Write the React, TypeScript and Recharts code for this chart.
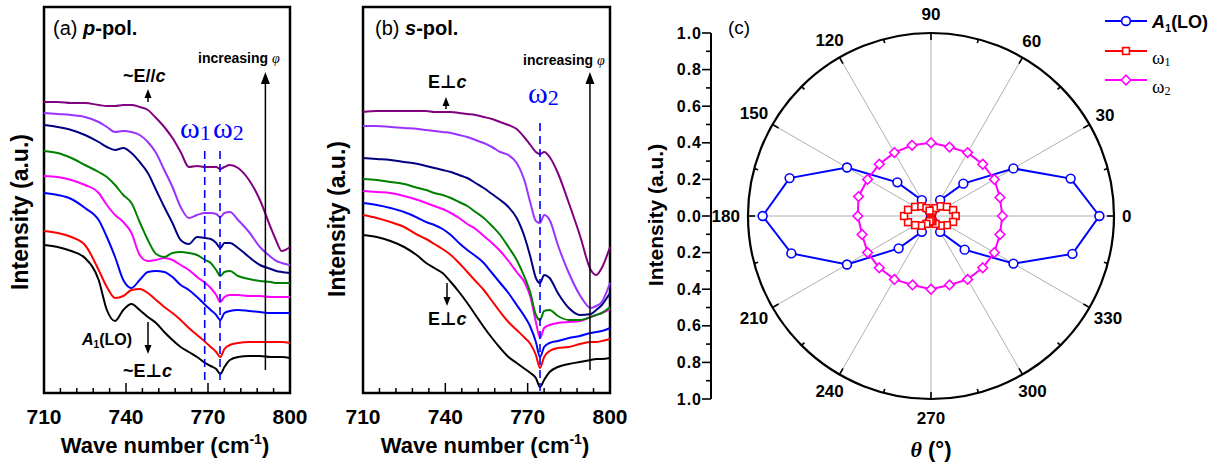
import React from "react";
import {
  LineChart,
  Line,
  XAxis,
  YAxis,
  ReferenceArea,
  ReferenceLine,
  ReferenceDot,
  RadarChart,
  Radar,
  PolarGrid,
  PolarAngleAxis,
  PolarRadiusAxis,
} from "recharts";

const FONT = "'Liberation Sans', Arial, 'DejaVu Sans', sans-serif";
const SERIF = "'Liberation Serif', 'DejaVu Serif', serif";

// wave numbers (cm-1) shared by both spectra panels
const WAVE = [
  710, 715, 720, 725, 730, 733, 736, 739, 742, 745, 748, 751, 754, 757, 760,
  763, 766, 769, 771, 773, 774.5, 776, 778, 781, 785, 789, 793, 795, 797, 800,
];
const WAVE_TICKS = [710, 716, 722, 728, 734, 740, 746, 752, 758, 764, 770, 776, 782, 788, 794, 800];
const WAVE_LABELS = [710, 740, 770, 800];

// (a) p-pol. spectra, bottom (black) to top (purple), intensity in a.u.
const P_BLACK = [148, 146, 142, 135, 113, 83, 72, 83, 89, 83, 76, 70, 61, 53, 46, 41, 36, 30, 27, 24, 19, 26, 33, 36, 37, 37, 36, 36, 36, 35];
const P_RED = [162, 160, 156, 148, 123, 106, 95, 97, 103, 104, 100, 93, 86, 80, 73, 65, 58, 51, 46, 41, 36, 44, 48, 50, 51, 51, 51, 51, 51, 50];
const P_BLUE = [200, 198, 194, 185, 173, 156, 136, 113, 105, 113, 121, 122, 121, 116, 108, 103, 96, 88, 83, 78, 73, 80, 82, 83, 82, 81, 80, 80, 80, 80];
const P_MAGENTA = [217, 216, 213, 208, 200, 188, 178, 171, 160, 138, 132, 133, 135, 133, 128, 123, 116, 110, 105, 98, 91, 96, 98, 98, 97, 97, 96, 96, 96, 96];
const P_GREEN = [242, 240, 235, 228, 221, 216, 208, 198, 190, 171, 153, 139, 136, 140, 141, 140, 138, 133, 130, 123, 117, 121, 122, 117, 114, 112, 111, 110, 110, 110];
const P_NAVY = [268, 266, 263, 258, 251, 246, 243, 245, 240, 231, 220, 203, 186, 170, 153, 149, 156, 155, 154, 150, 145, 150, 150, 145, 136, 128, 124, 122, 121, 120];
const P_VIOLET = [280, 279, 278, 276, 271, 266, 261, 262, 261, 258, 251, 240, 223, 206, 186, 175, 178, 180, 180, 179, 176, 180, 181, 173, 161, 146, 136, 132, 130, 128];
const P_PURPLE = [291, 291, 290, 290, 288, 287, 287, 288, 288, 286, 283, 275, 266, 255, 241, 226, 227, 226, 226, 226, 224, 226, 228, 225, 213, 193, 165, 152, 142, 146];

// (b) s-pol. spectra
const S_BLACK = [158, 156, 152, 146, 137, 130, 125, 120, 111, 101, 90, 78, 66, 55, 45, 36, 30, 24, 20, 15, 6, 13, 21, 26, 29, 31, 33, 34, 34, 35];
const S_RED = [178, 175, 171, 166, 158, 154, 149, 144, 138, 130, 121, 112, 103, 92, 81, 71, 63, 55, 49, 38, 25, 36, 42, 45, 46, 49, 51, 51, 52, 54];
const S_BLUE = [190, 188, 185, 181, 175, 171, 168, 164, 158, 150, 143, 137, 130, 120, 110, 100, 88, 76, 66, 51, 36, 46, 50, 52, 55, 57, 60, 61, 62, 65];
const S_MAGENTA = [202, 201, 200, 197, 193, 190, 187, 184, 180, 175, 169, 164, 157, 150, 142, 132, 121, 110, 96, 71, 55, 65, 68, 70, 71, 72, 76, 78, 80, 84];
const S_GREEN = [214, 213, 211, 209, 205, 203, 200, 198, 195, 191, 187, 181, 175, 167, 158, 146, 133, 115, 100, 78, 73, 82, 83, 77, 73, 73, 76, 78, 80, 86];
const S_NAVY = [235, 234, 233, 231, 229, 227, 225, 223, 221, 218, 215, 210, 205, 199, 193, 186, 175, 155, 136, 115, 110, 118, 115, 100, 85, 78, 79, 83, 88, 100];
const S_VIOLET = [267, 267, 266, 265, 264, 263, 262, 261, 260, 258, 256, 253, 250, 246, 241, 238, 230, 211, 190, 172, 170, 178, 173, 148, 120, 98, 85, 87, 91, 110];
const S_PURPLE = [281, 282, 282, 282, 282, 282, 281, 281, 281, 280, 279, 278, 276, 274, 271, 268, 264, 255, 248, 241, 239, 241, 236, 220, 190, 158, 123, 118, 125, 146];

const SPEC_COLORS = ["#000000", "#ff0000", "#0000ff", "#ff00ff", "#008000", "#000080", "#9933ff", "#800080"];

// (c) polar plot, angle in degrees, normalised intensity
const ANGLES = [0, 15, 30, 45, 60, 75, 90, 105, 120, 135, 150, 165, 180, 195, 210, 225, 240, 255, 270, 285, 300, 315, 330, 345];
const A1 = [0.92, 0.79, 0.52, 0.25, 0.1, 0.03, 0.01, 0.03, 0.1, 0.26, 0.53, 0.8, 0.92, 0.79, 0.53, 0.25, 0.1, 0.03, 0.01, 0.03, 0.1, 0.26, 0.52, 0.8];
const W1 = [0.135, 0.125, 0.1, 0.075, 0.05, 0.03, 0.02, 0.03, 0.05, 0.075, 0.1, 0.13, 0.147, 0.13, 0.1, 0.075, 0.05, 0.03, 0.02, 0.03, 0.05, 0.075, 0.1, 0.125];
const W2 = [0.39, 0.39, 0.4, 0.4, 0.4, 0.39, 0.4, 0.4, 0.4, 0.4, 0.4, 0.41, 0.4, 0.39, 0.4, 0.4, 0.4, 0.39, 0.4, 0.39, 0.4, 0.4, 0.4, 0.39];
const SPOKES = [0, 30, 60, 90, 120, 150, 180, 210, 240, 270, 300, 330];
const RADIAL_TICKS = [-1, -0.9, -0.8, -0.7, -0.6, -0.5, -0.4, -0.3, -0.2, -0.1, 0, 0.1, 0.2, 0.3, 0.4, 0.5, 0.6, 0.7, 0.8, 0.9, 1];

const ANGLE_TICK_GAP = 8; // PolarAngleAxis places tick props this far outside the circle

const toRows = (series: number[][]) =>
  WAVE.map((w, i) => {
    const row: Record<string, number> = { w };
    series.forEach((s, k) => {
      row[`k${k}`] = s[i];
    });
    return row;
  });

const pRows = toRows([P_BLACK, P_RED, P_BLUE, P_MAGENTA, P_GREEN, P_NAVY, P_VIOLET, P_PURPLE]);
const sRows = toRows([S_BLACK, S_RED, S_BLUE, S_MAGENTA, S_GREEN, S_NAVY, S_VIOLET, S_PURPLE]);

// radar sweeps clockwise from the top, so list the categories 90, 75, ... 0, 345, ... 105
const polarRows = ANGLES.map((_, k) => {
  const angle = (90 - 15 * k + 360) % 360;
  const i = ANGLES.indexOf(angle);
  return { angle, a1: A1[i], w1: W1[i], w2: W2[i] };
});

const WaveTick = (props: any) => {
  const { x, y, payload } = props;
  const v = payload.value;
  const major = WAVE_LABELS.includes(v);
  const edge = v === 710 || v === 800;
  return (
    <g>
      {!edge && (
        <line x1={x} x2={x} y1={y} y2={y - (major ? 10 : 5)} stroke="#000" strokeWidth={1.5} />
      )}
      {major && (
        <text x={x} y={y + 31} textAnchor="middle" fontSize={21} fontWeight="bold" fontFamily={FONT} fill="#000">
          {v}
        </text>
      )}
    </g>
  );
};

const ArrowHead = (p: any) => (
  <path d={`M${p.cx},${p.cy} L${p.cx - 4.5},${p.cy + 12} L${p.cx + 4.5},${p.cy + 12} Z`} fill="#000" />
);

function Spectra({ left, plotLeft, rows, dashes, arrowX }: any) {
  return (
    <div style={{ position: "absolute", left, top: 0 }}>
      <LineChart width={340} height={466} data={rows} margin={{ top: 7, right: 50, bottom: 0, left: plotLeft }}>
        <XAxis
          dataKey="w"
          type="number"
          domain={[710, 800]}
          ticks={WAVE_TICKS}
          interval={0}
          height={73}
          tick={WaveTick}
          tickSize={0}
          tickMargin={0}
          tickLine={false}
          axisLine={false}
        />
        <YAxis hide type="number" domain={[0, 386]} />
        {SPEC_COLORS.map((c, k) => (
          <Line
            key={k}
            dataKey={`k${k}`}
            type="monotone"
            stroke={c}
            strokeWidth={2}
            dot={false}
            isAnimationActive={false}
          />
        ))}
        {dashes.map((d: any, i: number) => (
          <ReferenceLine
            key={i}
            segment={[
              { x: d.x, y: d.y1 },
              { x: d.x, y: d.y2 },
            ]}
            stroke="#0000ff"
            strokeWidth={1.6}
            strokeDasharray="8 5"
            ifOverflow="visible"
          />
        ))}
        <ReferenceLine
          segment={[
            { x: arrowX, y: 23 },
            { x: arrowX, y: 312 },
          ]}
          stroke="#000"
          strokeWidth={1.5}
          ifOverflow="visible"
        />
        <ReferenceDot x={arrowX} y={321} shape={ArrowHead} ifOverflow="visible" />
        <ReferenceArea x1={710} x2={800} y1={0} y2={386} fill="none" fillOpacity={0} stroke="#000" strokeWidth={2.5} ifOverflow="visible" />
      </LineChart>
    </div>
  );
}

const AngleTick = (props: any) => {
  const { payload } = props;
  const deg = Number(payload.value);
  const rad = (payload.coordinate * Math.PI) / 180;
  const c = Math.cos(rad);
  const s = Math.sin(rad);
  // point on the circle itself
  const x = props.x - ANGLE_TICK_GAP * c;
  const y = props.y + ANGLE_TICK_GAP * s;
  const major = deg % 30 === 0;
  const len = major ? 7 : 4;
  const label = String(deg);
  const halfW = (label.length * 9.5) / 2;
  const off = 8 + c * c * halfW + s * s * 11;
  return (
    <g>
      <line x1={x} y1={y} x2={x - len * c} y2={y + len * s} stroke="#000" strokeWidth={1.6} />
      {major && (
        <text
          x={x + off * c}
          y={y - off * s}
          textAnchor="middle"
          dominantBaseline="central"
          fontSize={17}
          fontWeight="bold"
          fontFamily={FONT}
          fill="#000"
        >
          {label}
        </text>
      )}
    </g>
  );
};

const RadialTick = (props: any) => {
  const { x, y, payload } = props;
  const tenth = Math.round(Math.abs(payload.value) * 10);
  const major = tenth % 2 === 0;
  return (
    <g>
      <line x1={x} x2={x - (major ? 9 : 5)} y1={y} y2={y} stroke="#000" strokeWidth={1.6} />
      {major && (
        <text
          x={x - 9}
          y={y}
          textAnchor="end"
          dominantBaseline="central"
          fontSize={16}
          fontWeight="bold"
          letterSpacing={1}
          fontFamily={FONT}
          fill="#000"
        >
          {(tenth / 10).toFixed(1)}
        </text>
      )}
    </g>
  );
};

const CircleDot = (p: any) => (
  <circle key={p.index} cx={p.cx} cy={p.cy} r={4.4} fill="#fff" stroke="#0000ff" strokeWidth={1.6} />
);
const SquareDot = (p: any) => (
  <rect key={p.index} x={p.cx - 3.4} y={p.cy - 3.4} width={6.8} height={6.8} fill="#fff" stroke="#ff0000" strokeWidth={1.6} />
);
const DiamondDot = (p: any) => (
  <path
    key={p.index}
    d={`M${p.cx},${p.cy - 4.8} L${p.cx + 4.8},${p.cy} L${p.cx},${p.cy + 4.8} L${p.cx - 4.8},${p.cy} Z`}
    fill="#fff"
    stroke="#ff00ff"
    strokeWidth={1.6}
  />
);

const Arrow = ({ x, y1, y2 }: { x: number; y1: number; y2: number }) => {
  const dir = y2 < y1 ? 1 : -1;
  return (
    <g>
      <line x1={x} x2={x} y1={y1} y2={y2 + dir * 6} stroke="#000" strokeWidth={1.5} />
      <path d={`M${x},${y2} L${x - 3.5},${y2 + dir * 9} L${x + 3.5},${y2 + dir * 9} Z`} fill="#000" />
    </g>
  );
};

export default function App() {
  return (
    <div style={{ position: "absolute", left: 0, top: 0, width: 1216, height: 466, background: "#fff", fontFamily: FONT }}>
      <Spectra
        left={0}
        plotLeft={44}
        rows={pRows}
        arrowX={791}
        dashes={[
          { x: 768.8, y1: 13, y2: 245 },
          { x: 774.4, y1: 13, y2: 245 },
        ]}
      />
      <Spectra left={320} plotLeft={43} rows={sRows} arrowX={792.7} dashes={[{ x: 774.5, y1: 2, y2: 273 }]} />

      {/* radial scale of panel (c) */}
      <div style={{ position: "absolute", left: 640, top: 0 }}>
        <LineChart width={80} height={466} data={[]} margin={{ top: 33, right: 9, bottom: 67, left: 0 }}>
          <XAxis hide type="number" domain={[0, 1]} />
          <YAxis
            type="number"
            domain={[-1, 1]}
            ticks={RADIAL_TICKS}
            interval={0}
            width={71}
            tick={RadialTick}
            tickSize={0}
            tickMargin={0}
            tickLine={false}
            allowDataOverflow
            axisLine={{ stroke: "#000", strokeWidth: 2 }}
          />
        </LineChart>
      </div>

      <div style={{ position: "absolute", left: 680, top: 0 }}>
        <RadarChart
          width={536}
          height={466}
          data={polarRows}
          cx={251}
          cy={216}
          innerRadius={0}
          outerRadius={183}
          margin={{ top: 0, right: 0, bottom: 0, left: 0 }}
        >
          <PolarGrid gridType="circle" polarAngles={SPOKES} stroke="#9a9a9a" strokeWidth={0.8} />
          <PolarRadiusAxis domain={[0, 1]} tickCount={6} tick={false} axisLine={false} />
          <PolarAngleAxis
            dataKey="angle"
            tick={AngleTick}
            tickLine={false}
            tickSize={ANGLE_TICK_GAP}
            axisLineType="circle"
            stroke="#000"
            axisLine={{ stroke: "#000", strokeWidth: 2.2 }}
          />
          <Radar dataKey="a1" stroke="#0000ff" strokeWidth={2} fill="none" fillOpacity={0} dot={CircleDot} isAnimationActive={false} />
          <Radar dataKey="w2" stroke="#ff00ff" strokeWidth={2} fill="none" fillOpacity={0} dot={DiamondDot} isAnimationActive={false} />
          <Radar dataKey="w1" stroke="#ff0000" strokeWidth={2} fill="none" fillOpacity={0} dot={SquareDot} isAnimationActive={false} />
        </RadarChart>
      </div>

      <svg width={1216} height={466} style={{ position: "absolute", left: 0, top: 0, pointerEvents: "none" }} fontFamily={FONT}>
        {/* panel titles */}
        <text x={53} y={35} fontSize={20}>
          (a) <tspan fontWeight="bold" fontStyle="italic">p</tspan>
          <tspan fontWeight="bold">-pol.</tspan>
        </text>
        <text x={375} y={35} fontSize={20}>
          (b) <tspan fontWeight="bold" fontStyle="italic">s</tspan>
          <tspan fontWeight="bold">-pol.</tspan>
        </text>
        <text x={728} y={34} fontSize={19}>(c)</text>

        {/* axis titles */}
        <text transform="translate(28,212) rotate(-90)" textAnchor="middle" fontSize={23} fontWeight="bold">
          Intensity (a.u.)
        </text>
        <text transform="translate(345,219) rotate(-90)" textAnchor="middle" fontSize={23} fontWeight="bold">
          Intensity (a.u.)
        </text>
        <text transform="translate(663,215) rotate(-90)" textAnchor="middle" fontSize={21} fontWeight="bold">
          Intensity (a.u.)
        </text>
        <text x={165} y={453} textAnchor="middle" fontSize={22} fontWeight="bold">
          Wave number (cm<tspan dy={-9} fontSize={14}>-1</tspan>
          <tspan dy={9}>)</tspan>
        </text>
        <text x={485} y={453} textAnchor="middle" fontSize={22} fontWeight="bold">
          Wave number (cm<tspan dy={-9} fontSize={14}>-1</tspan>
          <tspan dy={9}>)</tspan>
        </text>
        <text x={931} y={457} textAnchor="middle" fontSize={22} fontWeight="bold">
          <tspan fontFamily={SERIF} fontStyle="italic">θ</tspan> (°)
        </text>

        {/* panel (a) annotations */}
        <text x={198} y={63} fontSize={14} fontWeight="bold">
          increasing <tspan fontFamily={SERIF} fontStyle="italic" fontWeight="normal">φ</tspan>
        </text>
        <text x={123} y={82} fontSize={18} fontWeight="bold">
          ~E//<tspan fontStyle="italic">c</tspan>
        </text>
        <Arrow x={148} y1={102} y2={89} />
        <text x={180} y={138} fontSize={30} fill="#0000ff" fontFamily={SERIF}>
          ω<tspan fontSize={22} dy={2}>1</tspan>
        </text>
        <text x={213} y={138} fontSize={30} fill="#0000ff" fontFamily={SERIF}>
          ω<tspan fontSize={22} dy={2}>2</tspan>
        </text>
        <text x={82} y={345} fontSize={16} fontWeight="bold">
          <tspan fontStyle="italic">A</tspan>
          <tspan fontSize={10} dy={3}>1</tspan>
          <tspan dy={-3}>(LO)</tspan>
        </text>
        <Arrow x={148} y1={322} y2={354} />
        <text x={123} y={377} fontSize={18} fontWeight="bold">
          ~E⊥<tspan fontStyle="italic">c</tspan>
        </text>

        {/* panel (b) annotations */}
        <text x={523} y={65} fontSize={14} fontWeight="bold">
          increasing <tspan fontFamily={SERIF} fontStyle="italic" fontWeight="normal">φ</tspan>
        </text>
        <text x={428} y={88} fontSize={18} fontWeight="bold">
          E⊥<tspan fontStyle="italic">c</tspan>
        </text>
        <Arrow x={446} y1={109} y2={97} />
        <text x={528} y={103} fontSize={30} fill="#0000ff" fontFamily={SERIF}>
          ω<tspan fontSize={22} dy={2}>2</tspan>
        </text>
        <Arrow x={447} y1={283} y2={306} />
        <text x={428} y={325} fontSize={18} fontWeight="bold">
          E⊥<tspan fontStyle="italic">c</tspan>
        </text>

        {/* legend of panel (c) */}
        <line x1={1105} x2={1147} y1={21} y2={21} stroke="#0000ff" strokeWidth={2} />
        <circle cx={1126} cy={21} r={4.4} fill="#fff" stroke="#0000ff" strokeWidth={1.6} />
        <text x={1152} y={28} fontSize={18} fontWeight="bold">
          <tspan fontStyle="italic">A</tspan>
          <tspan fontSize={11} dy={4}>1</tspan>
          <tspan dy={-4}>(LO)</tspan>
        </text>
        <line x1={1105} x2={1147} y1={51} y2={51} stroke="#ff0000" strokeWidth={2} />
        <rect x={1122.6} y={47.6} width={6.8} height={6.8} fill="#fff" stroke="#ff0000" strokeWidth={1.6} />
        <text x={1152} y={64} fontSize={19} fontFamily={SERIF}>
          ω<tspan fontSize={12} dy={2}>1</tspan>
        </text>
        <line x1={1105} x2={1147} y1={80} y2={80} stroke="#ff00ff" strokeWidth={2} />
        <path d="M1126,75.2 L1130.8,80 L1126,84.8 L1121.2,80 Z" fill="#fff" stroke="#ff00ff" strokeWidth={1.6} />
        <text x={1152} y={93} fontSize={19} fontFamily={SERIF}>
          ω<tspan fontSize={12} dy={2}>2</tspan>
        </text>
      </svg>
    </div>
  );
}
